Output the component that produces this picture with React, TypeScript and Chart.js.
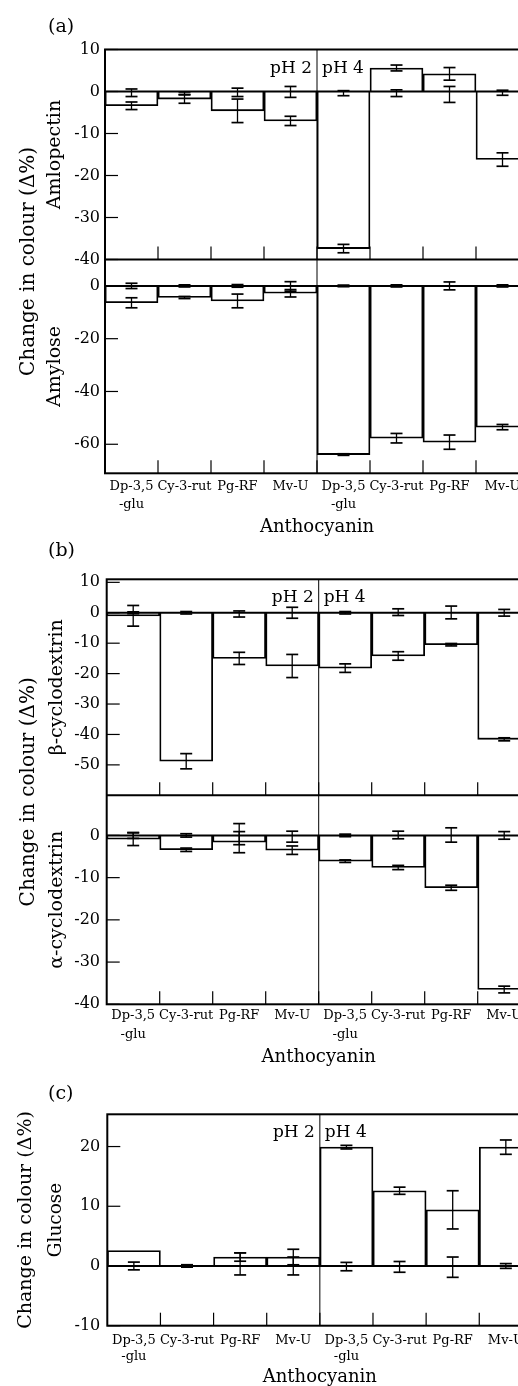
import React, { useEffect, useRef } from 'react';
import { Chart, registerables } from 'chart.js';

Chart.register(...registerables);

const FONT = "'DejaVu Serif', 'Liberation Serif', serif";

// ---------- text ----------
const categories: (string | string[])[] = [
  ['Dp-3,5', '-glu'], 'Cy-3-rut', 'Pg-RF', 'Mv-U',
  ['Dp-3,5', '-glu'], 'Cy-3-rut', 'Pg-RF', 'Mv-U',
];
const phLabels = ['pH 2', 'pH 4'];
const panelLabels = ['(a)', '(b)', '(c)'];
const yTitle = 'Change in colour (Δ%)';
const xTitle = 'Anthocyanin';

// ---------- (a) Amlopectin ----------
const amloMean = [-3.4, -1.8, -4.6, -7.0, -37.4, 5.6, 4.2, -16.2];
const amloErr = [0.9, 1.0, 2.8, 1.1, 1.0, 0.7, 1.5, 1.6];
const amloCtrl = [-0.3, -0.4, -0.2, -0.1, -0.4, -0.4, -0.7, -0.3];
const amloCtrlErr = [0.9, 0.3, 1.0, 1.3, 0.6, 0.8, 1.9, 0.6];
const amloTicks = [10, 0, -10, -20, -30, -40];

// ---------- (a) Amylose ----------
const amyMean = [-6.4, -4.4, -5.7, -2.8, -63.9, -57.7, -59.2, -53.5];
const amyErr = [1.9, 0.4, 2.6, 1.4, 0.3, 1.8, 2.7, 1.0];
const amyCtrl = [0, 0, 0, -0.2, 0, 0, 0, 0];
const amyCtrlErr = [1.0, 0.4, 0.5, 1.8, 0.3, 0.4, 1.5, 0.4];
const amyTicks = [0, -20, -40, -60];

// ---------- (b) beta-cyclodextrin ----------
const betaMean = [-1.0, -48.8, -15.0, -17.5, -18.2, -14.2, -10.5, -41.6];
const betaErr = [3.4, 2.5, 2.0, 3.8, 1.4, 1.4, 0.4, 0.5];
const betaCtrl = [0, 0, -0.4, 0, 0, 0.2, 0.1, 0];
const betaCtrlErr = [0.3, 0.4, 1.0, 1.8, 0.4, 1.1, 2.1, 1.1];
const betaTicks = [10, 0, -10, -20, -30, -40, -50];

// ---------- (b) alpha-cyclodextrin ----------
const alphaMean = [-0.9, -3.4, -1.6, -3.5, -6.1, -7.6, -12.4, -36.5];
const alphaErr = [1.5, 0.4, 2.5, 1.0, 0.3, 0.5, 0.6, 0.8];
const alphaCtrl = [0, 0, 0.3, -0.3, 0, 0.1, 0.1, 0];
const alphaCtrlErr = [0.7, 0.4, 2.5, 1.3, 0.3, 0.9, 1.7, 0.9];
const alphaTicks = [0, -10, -20, -30, -40];

// ---------- (c) Glucose ----------
const gluMean = [2.6, 0, 1.5, 1.5, 19.9, 12.6, 9.4, 19.9];
const gluErr = [0, 0.2, 0.7, 1.3, 0.3, 0.6, 3.2, 1.2];
const gluCtrl = [0, 0, 0.35, 0, -0.1, -0.15, -0.2, 0];
const gluCtrlErr = [0.65, 0.2, 1.85, 1.5, 0.7, 0.9, 1.7, 0.4];
const gluTicks = [20, 10, 0, -10];

type Sub = {
  id: string; title: string; min: number; max: number; ticks: number[];
  mean: number[]; err: number[]; ctrl: number[]; ctrlErr: number[]; weight: number;
};

type PanelSpec = {
  top: number; width: number; height: number; padTop: number; padRight: number;
  outerW: number; innerW: number; xAxisH: number;
  mainSize: number; mainPad: number; subSize: number; subPad: number;
  tickPad: number; xTickPad: number; xLineHeight: number; xTitlePadBottom: number;
  subs: Sub[];
};

const panels: PanelSpec[] = [
  {
    top: 0, width: 534, height: 545, padTop: 49.5, padRight: 5,
    outerW: 40, innerW: 65, xAxisH: 71.7,
    mainSize: 20, mainPad: 17, subSize: 19, subPad: 4.1,
    tickPad: 5, xTickPad: 4.9, xLineHeight: 17.6, xTitlePadBottom: 7.2,
    subs: [
      { id: 'yA1', title: 'Amlopectin', min: -40, max: 10, ticks: amloTicks, mean: amloMean, err: amloErr, ctrl: amloCtrl, ctrlErr: amloCtrlErr, weight: 210 },
      { id: 'yA2', title: 'Amylose', min: -71, max: 10, ticks: amyTicks, mean: amyMean, err: amyErr, ctrl: amyCtrl, ctrlErr: amyCtrlErr, weight: 213.8 },
    ],
  },
  {
    top: 545, width: 536, height: 530, padTop: 34.3, padRight: 5.3,
    outerW: 40, innerW: 66.7, xAxisH: 70.7,
    mainSize: 20, mainPad: 16.5, subSize: 19, subPad: 6.1,
    tickPad: 6.7, xTickPad: 2.2, xLineHeight: 19, xTitlePadBottom: 7.2,
    subs: [
      { id: 'yB1', title: 'β-cyclodextrin', min: -60, max: 11, ticks: betaTicks, mean: betaMean, err: betaErr, ctrl: betaCtrl, ctrlErr: betaCtrlErr, weight: 216 },
      { id: 'yB2', title: 'α-cyclodextrin', min: -40, max: 9.5, ticks: alphaTicks, mean: alphaMean, err: alphaErr, ctrl: alphaCtrl, ctrlErr: alphaCtrlErr, weight: 209 },
    ],
  },
  {
    top: 1075, width: 538, height: 320.3, padTop: 39.3, padRight: 5.6,
    outerW: 40, innerW: 67.3, xAxisH: 69.3,
    mainSize: 19, mainPad: 15.1, subSize: 18.5, subPad: 5.4,
    tickPad: 7, xTickPad: 7.2, xLineHeight: 15.5, xTitlePadBottom: 7,
    subs: [
      { id: 'yC1', title: 'Glucose', min: -10, max: 25.4, ticks: gluTicks, mean: gluMean, err: gluErr, ctrl: gluCtrl, ctrlErr: gluCtrlErr, weight: 1 },
    ],
  },
];

function framePlugin(spec: PanelSpec) {
  return {
    id: 'figureFrame',
    afterDatasetsDraw(chart: any) {
      const ctx: CanvasRenderingContext2D = chart.ctx;
      const ca = chart.chartArea;
      const xs = chart.scales.x;
      const line = (x1: number, y1: number, x2: number, y2: number, w: number) => {
        ctx.lineWidth = w;
        ctx.beginPath();
        ctx.moveTo(x1, y1);
        ctx.lineTo(x2, y2);
        ctx.stroke();
      };
      const errBar = (cx: number, ys: any, m: number, e: number) => {
        if (!e) return;
        const yHi = ys.getPixelForValue(m + e);
        const yLo = ys.getPixelForValue(m - e);
        line(cx, yHi, cx, yLo, 1.3);
        line(cx - 6, yHi, cx + 6, yHi, 1.7);
        line(cx - 6, yLo, cx + 6, yLo, 1.7);
      };
      ctx.save();
      ctx.strokeStyle = '#000';
      ctx.lineCap = 'butt';
      // zero lines
      spec.subs.forEach((sub) => {
        const ys = chart.scales[sub.id];
        const y0 = ys.getPixelForValue(0);
        line(ca.left, y0, ca.right, y0, 2);
      });
      // error bars
      spec.subs.forEach((sub) => {
        const ys = chart.scales[sub.id];
        sub.mean.forEach((m, i) => {
          const cx = xs.getPixelForValue(i);
          errBar(cx, ys, sub.ctrl[i], sub.ctrlErr[i]);
          errBar(cx, ys, m, sub.err[i]);
        });
      });
      // pH divider
      const xd = (xs.getPixelForValue(3) + xs.getPixelForValue(4)) / 2;
      line(xd, ca.top, xd, ca.bottom, 1);
      // frame
      ctx.lineWidth = 2;
      ctx.strokeRect(ca.left, ca.top, ca.right - ca.left, ca.bottom - ca.top);
      spec.subs.slice(0, -1).forEach((sub) => {
        const ys = chart.scales[sub.id];
        line(ca.left, ys.bottom, ca.right, ys.bottom, 2);
      });
      // inward ticks
      spec.subs.forEach((sub) => {
        const ys = chart.scales[sub.id];
        sub.ticks.forEach((v) => {
          const y = ys.getPixelForValue(v);
          line(ca.left, y, ca.left + 13, y, 1.2);
        });
        for (let i = 0; i < categories.length - 1; i++) {
          const bx = (xs.getPixelForValue(i) + xs.getPixelForValue(i + 1)) / 2;
          line(bx, ys.bottom, bx, ys.bottom - 13, 1.2);
        }
      });
      // pH labels
      ctx.fillStyle = '#000';
      ctx.font = `17px ${FONT}`;
      ctx.textBaseline = 'alphabetic';
      ctx.textAlign = 'right';
      ctx.fillText(phLabels[0], xd - 5, ca.top + 23);
      ctx.textAlign = 'left';
      ctx.fillText(phLabels[1], xd + 5, ca.top + 23);
      ctx.restore();
    },
  };
}

function buildConfig(spec: PanelSpec): any {
  const scales: any = {
    x: {
      type: 'category',
      position: 'bottom',
      offset: true,
      grid: { display: false, drawTicks: false, offset: true },
      border: { display: false },
      ticks: {
        color: '#000',
        autoSkip: false,
        maxRotation: 0,
        minRotation: 0,
        padding: spec.xTickPad,
        font: { family: FONT, size: 13, lineHeight: spec.xLineHeight / 13 },
      },
      title: {
        display: true,
        text: xTitle,
        color: '#000',
        font: { family: FONT, size: 18, lineHeight: 1.2 },
        padding: { top: 0, bottom: spec.xTitlePadBottom },
      },
      afterFit: (s: any) => { s.height = spec.xAxisH; },
    },
    yOuter: {
      type: 'linear',
      position: 'left',
      weight: 10,
      grid: { display: false, drawTicks: false },
      border: { display: false },
      ticks: { display: false },
      title: {
        display: true,
        text: yTitle,
        color: '#000',
        font: { family: FONT, size: spec.mainSize, lineHeight: 1.2 },
        padding: { top: spec.mainPad, bottom: 0 },
      },
      afterFit: (s: any) => { s.width = spec.outerW; },
    },
  };
  spec.subs.forEach((sub, k) => {
    scales[sub.id] = {
      type: 'linear',
      position: 'left',
      stack: 'panel',
      stackWeight: sub.weight,
      weight: spec.subs.length - k,
      min: sub.min,
      max: sub.max,
      grid: { display: false, drawTicks: false },
      border: { display: false },
      ticks: {
        color: '#000',
        autoSkip: false,
        padding: spec.tickPad,
        font: { family: FONT, size: 16 },
        callback: (v: any) => String(v),
      },
      afterBuildTicks: (s: any) => { s.ticks = sub.ticks.map((v) => ({ value: v })); },
      title: {
        display: true,
        text: sub.title,
        color: '#000',
        font: { family: FONT, size: spec.subSize, lineHeight: 1.2 },
        padding: { top: spec.subPad, bottom: 0 },
      },
      afterFit: (s: any) => { s.width = spec.innerW; },
    };
  });

  return {
    type: 'bar',
    data: {
      labels: categories,
      datasets: spec.subs.map((sub) => ({
        label: sub.title,
        data: sub.mean,
        xAxisID: 'x',
        yAxisID: sub.id,
        grouped: false,
        backgroundColor: '#ffffff',
        borderColor: '#000000',
        borderWidth: 1.8,
        barPercentage: 1,
        categoryPercentage: 1,
      })),
    },
    options: {
      responsive: false,
      maintainAspectRatio: false,
      animation: false,
      devicePixelRatio: 1,
      layout: { padding: { top: spec.padTop, right: spec.padRight, left: 0, bottom: 0 } },
      plugins: {
        legend: { display: false },
        tooltip: { enabled: false },
        title: { display: false },
      },
      scales,
    },
    plugins: [framePlugin(spec)],
  };
}

function PanelChart({ spec }: { spec: PanelSpec }) {
  const ref = useRef<HTMLCanvasElement>(null);
  useEffect(() => {
    const canvas = ref.current;
    if (!canvas) return;
    const chart = new Chart(canvas, buildConfig(spec));
    return () => chart.destroy();
  }, [spec]);
  return (
    <canvas
      ref={ref}
      width={Math.round(spec.width)}
      height={Math.round(spec.height)}
      style={{
        position: 'absolute',
        left: 0,
        top: spec.top,
        width: Math.round(spec.width),
        height: Math.round(spec.height),
      }}
    />
  );
}

const labelTops = [16.3, 540.3, 1082.8];

export default function App() {
  return (
    <div
      style={{
        position: 'absolute',
        left: 0,
        top: 0,
        width: 518,
        height: 1386,
        overflow: 'hidden',
        background: '#ffffff',
      }}
    >
      {panels.map((p, i) => (
        <PanelChart key={i} spec={p} />
      ))}
      {panelLabels.map((t, i) => (
        <div
          key={t}
          style={{
            position: 'absolute',
            left: 48,
            top: labelTops[i],
            fontFamily: FONT,
            fontSize: 19,
            lineHeight: '19px',
            color: '#000',
            whiteSpace: 'nowrap',
          }}
        >
          {t}
        </div>
      ))}
    </div>
  );
}
